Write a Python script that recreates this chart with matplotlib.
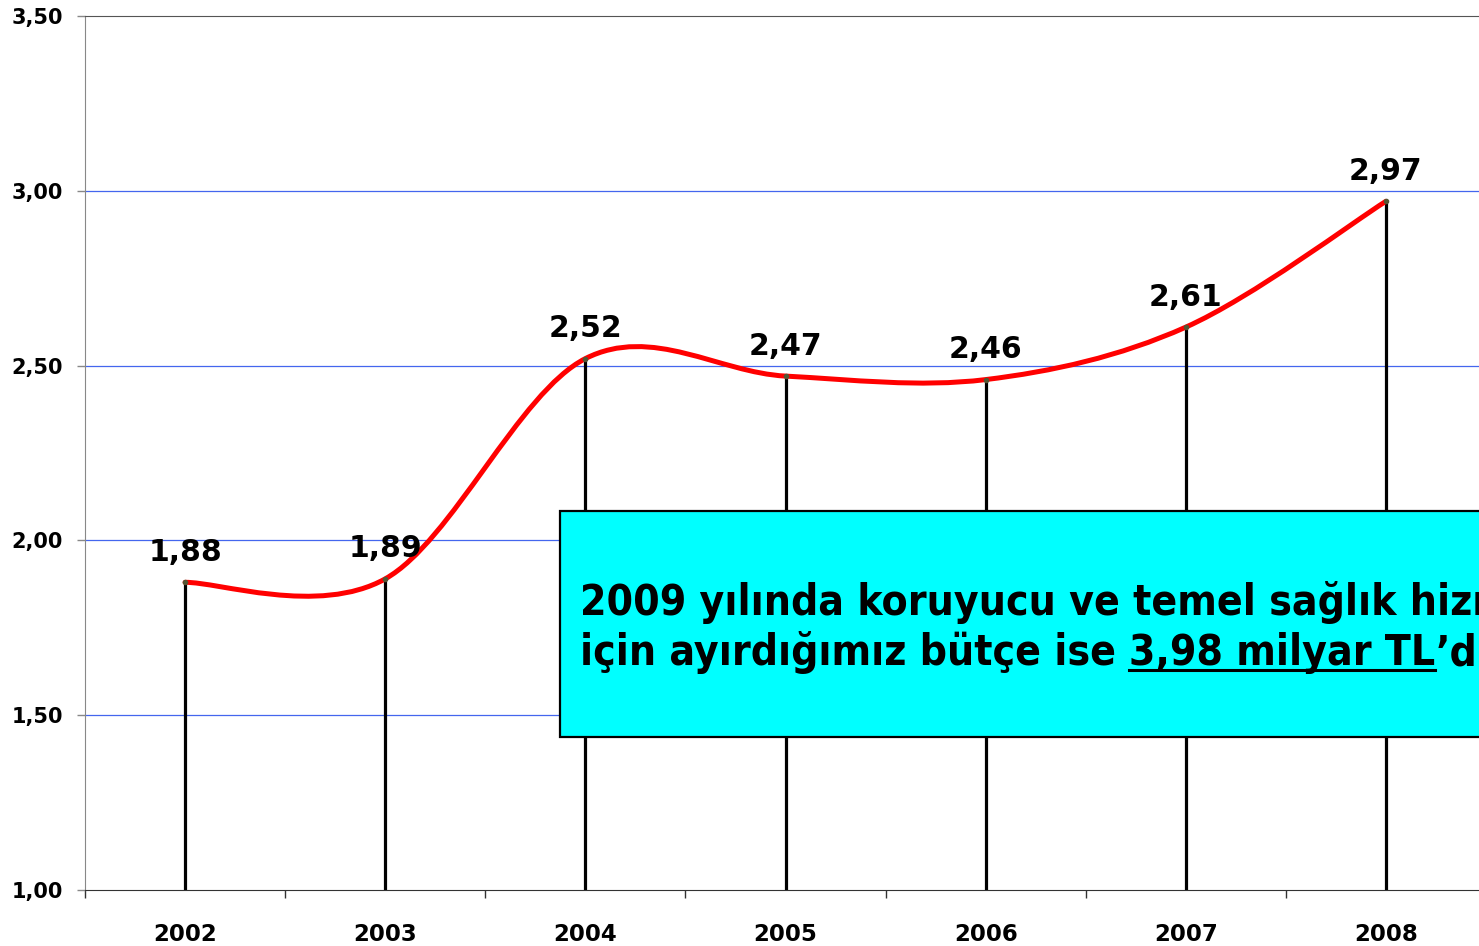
import matplotlib
matplotlib.use("Agg")
import matplotlib.pyplot as plt
import numpy as np
from matplotlib.path import Path
from matplotlib.patches import PathPatch, Rectangle

years = ["2002", "2003", "2004", "2005", "2006", "2007", "2008"]
values = [1.88, 1.89, 2.52, 2.47, 2.46, 2.61, 2.97]
value_labels = ["1,88", "1,89", "2,52", "2,47", "2,46", "2,61", "2,97"]
y_ticks = [1.0, 1.5, 2.0, 2.5, 3.0, 3.5]
y_tick_labels = ["1,00", "1,50", "2,00", "2,50", "3,00", "3,50"]

line1 = "2009 yılında koruyucu ve temel sağlık hizmetleri"
line2_pre = "için ayırdığımız bütçe ise "
line2_under = "3,98 milyar TL"
line2_post = "’dir."

W, H = 1479, 946
fig = plt.figure(figsize=(W / 100, H / 100), dpi=100)
# axes extends a little past the right edge, like the original slide
ax = fig.add_axes([85 / W, (H - 890) / H, 1401 / W, 874 / H])

x = np.arange(len(values))


def smooth_path(xs, ys):
    # Catmull-Rom style bezier, similar to a spreadsheet "smoothed line"
    verts = [(xs[0], ys[0])]
    codes = [Path.MOVETO]
    n = len(xs)
    for i in range(n - 1):
        p0 = (xs[max(i - 1, 0)], ys[max(i - 1, 0)])
        p1 = (xs[i], ys[i])
        p2 = (xs[i + 1], ys[i + 1])
        p3 = (xs[min(i + 2, n - 1)], ys[min(i + 2, n - 1)])
        c1 = (p1[0] + (p2[0] - p0[0]) / 6, p1[1] + (p2[1] - p0[1]) / 6)
        c2 = (p2[0] - (p3[0] - p1[0]) / 6, p2[1] - (p3[1] - p1[1]) / 6)
        verts += [c1, c2, p2]
        codes += [Path.CURVE4] * 3
    return Path(verts, codes)


ax.vlines(x, 1.0, values, color="black", lw=2.3, zorder=2)
ax.add_patch(PathPatch(smooth_path(x, values), fill=False, ec="#ff0000",
                       lw=3.6, capstyle="round", zorder=3))
ax.plot(x, values, "o", ms=3, color="#555533", zorder=4)

for xi, v, lab in zip(x, values, value_labels):
    ax.annotate(lab, (xi, v), xytext=(0, 15.5), textcoords="offset points",
                ha="center", va="baseline", fontsize=21.5, fontweight="bold",
                family="DejaVu Sans")

ax.set_xlim(-0.5, len(values) - 0.5)
ax.set_ylim(1.0, 3.5)
ax.set_yticks(y_ticks)
ax.set_yticklabels(y_tick_labels, fontsize=15, fontweight="bold")
ax.set_xticks(x)
ax.set_xticklabels(years, fontsize=16.5, fontweight="bold")
ax.set_xticks(np.arange(-0.5, len(values), 1), minor=True)
ax.tick_params(axis="x", which="major", length=0, pad=24)
ax.tick_params(axis="x", which="minor", length=6, width=1, color="#333333")
ax.tick_params(axis="y", length=6, width=1, color="#888888", pad=10)

for gy in [1.5, 2.0, 2.5, 3.0]:
    ax.axhline(gy, color="#4466ee", lw=0.9, zorder=1)

ax.spines["left"].set_color("#888888")
ax.spines["top"].set_color("#555555")
ax.spines["bottom"].set_color("#333333")
ax.spines["right"].set_visible(False)

# info box
fig.patches.append(Rectangle((560 / W, 1 - 737 / H), 1000 / W, 226 / H,
                             transform=fig.transFigure, fc="#00ffff",
                             ec="black", lw=1.6, zorder=5))

tkw = dict(fontsize=30.5, fontweight="bold", family="DejaVu Sans",
           fontstretch="condensed", va="baseline", ha="left", zorder=6)
fig.text(580 / W, 1 - 615 / H, line1, **tkw)
t_pre = fig.text(580 / W, 1 - 665 / H, line2_pre, **tkw)
fig.canvas.draw()
r = fig.canvas.get_renderer()
x0 = t_pre.get_window_extent(r).x1
t_u = fig.text(x0 / W, 1 - 665 / H, line2_under, **tkw)
bb = t_u.get_window_extent(r)
fig.text(bb.x1 / W, 1 - 665 / H, line2_post, **tkw)
fig.add_artist(plt.Line2D([bb.x0 / W, bb.x1 / W], [1 - 670 / H, 1 - 670 / H],
                          transform=fig.transFigure, color="black", lw=2.2,
                          zorder=6))

fig.savefig("out.png", dpi=100)
